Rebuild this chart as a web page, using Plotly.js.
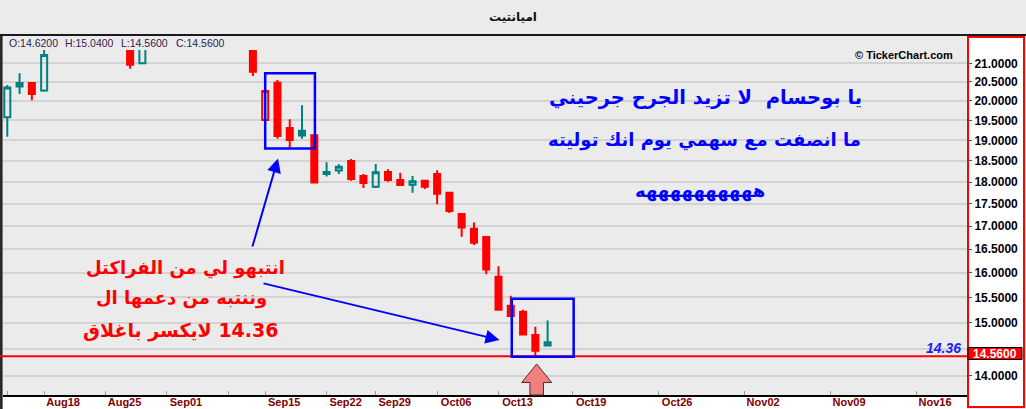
<!DOCTYPE html>
<html>
<head>
<meta charset="utf-8">
<script src="https://cdn.plot.ly/plotly-3.0.1.min.js"></script>
<style>
html,body{margin:0;padding:0;background:#ebebeb;overflow:hidden;}
#chart{width:1026px;height:409px;}
</style>
</head>
<body>
<div id="chart"></div>
<script>
// ---------------- data ----------------
const dates = ['2019-08-13','2019-08-14','2019-08-15',
 '2019-08-18','2019-08-19','2019-08-20','2019-08-21','2019-08-22',
 '2019-08-25','2019-08-26','2019-08-27','2019-08-28','2019-08-29',
 '2019-09-01','2019-09-02','2019-09-03','2019-09-04','2019-09-05',
 '2019-09-10','2019-09-11','2019-09-12',
 '2019-09-15','2019-09-16','2019-09-17','2019-09-18','2019-09-19',
 '2019-09-22','2019-09-24','2019-09-25','2019-09-26',
 '2019-09-29','2019-09-30','2019-10-01','2019-10-02','2019-10-03',
 '2019-10-06','2019-10-07','2019-10-08','2019-10-09','2019-10-10',
 '2019-10-13','2019-10-14','2019-10-15','2019-10-16','2019-10-17'];

const openP  = [19.58,20.47,20.47,20.27,21.50,21.90,22.30,22.10,21.80,21.60,
                21.80,21.00,21.70,22.00,22.20,22.10,22.30,22.10,21.80,21.60,
                21.70,19.51,20.48,19.31,19.24,19.13,18.24,18.27,18.50,18.14,
                17.89,18.24,18.05,17.94,18.03,18.19,17.75,17.27,16.94,16.76,
                15.92,15.33,15.21,14.76,14.62];
const highP  = [20.42,20.73,20.47,21.45,22.00,22.40,22.60,22.30,22.00,21.90,
                21.90,21.90,22.10,22.30,22.50,22.40,22.60,22.20,22.00,21.80,
                21.80,20.26,20.55,19.53,19.89,19.13,18.47,18.42,18.55,18.19,
                18.43,18.30,18.22,18.14,18.05,18.28,17.75,17.29,17.08,16.76,
                16.14,15.53,15.25,14.92,15.04];
const lowP   = [19.09,20.18,20.02,20.24,21.45,21.80,22.00,21.70,21.50,21.45,
                20.85,21.00,21.50,21.80,22.00,21.90,22.00,21.70,21.50,21.45,
                20.66,19.51,19.04,18.82,19.04,17.99,18.13,18.19,18.03,17.86,
                17.86,18.01,17.93,17.75,17.84,17.49,17.29,16.77,16.59,15.97,
                15.23,15.13,14.77,14.36,14.56];
const closeP = [20.35,20.38,20.18,21.23,21.90,22.30,22.10,21.80,21.60,21.80,
                20.96,21.70,22.00,22.20,22.10,22.30,22.10,21.80,21.60,21.70,
                20.77,20.26,19.11,19.01,19.12,17.99,18.19,18.36,18.07,17.98,
                18.23,18.05,17.93,18.02,17.89,17.73,17.34,16.97,16.64,16.07,
                15.25,15.13,14.77,14.46,14.56];

const tickDates  = ['2019-08-13','2019-08-18','2019-08-25','2019-09-01','2019-09-10','2019-09-15',
                    '2019-09-22','2019-09-29','2019-10-06','2019-10-13','2019-10-19','2019-10-26',
                    '2019-11-02','2019-11-09','2019-11-16'];
const tickLabels = ['','Aug18','Aug25','Sep01','','Sep15','Sep22','Sep29','Oct06','Oct13',
                    'Oct19','Oct26','Nov02','Nov09','Nov16'];

const priceTicks = [14.0,14.5,15.0,15.5,16.0,16.5,17.0,17.5,18.0,18.5,19.0,19.5,20.0,20.5,21.0];
const supportLevel = 14.36;

const titleText = 'اميانتيت';
const redNote  = ['انتبهو لي من الفراكتل', 'وننتبه من دعمها ال', '\u200F14.36 لايكسر باغلاق'];
const blueNote = ['يا بوحسام  لا تزيد الجرح جرحيني', 'ما انصفت مع سهمي يوم انك توليته', 'ههههههههههه'];

// ---------------- geometry ----------------
const W = 1026, H = 409;
const M = {l: 3, r: 59, t: 50, b: 14};
const PW = W - M.l - M.r, PH = H - M.t - M.b;
const xr = [-0.35, 78.15];
const yr = [Math.log10(13.6546), Math.log10(21.3657)];

const DAY = 86400000;
const lastIdx = dates.length - 1;
function dateIndex(d) {
  const k = dates.indexOf(d);
  if (k >= 0) return k;
  return lastIdx + Math.round((Date.parse(d) - Date.parse(dates[lastIdx])) / DAY);
}
const xIdx = dates.map((d, i) => i);
const tickVals = tickDates.map(dateIndex);

const pxX = px => (px - M.l) / PW;                 // pixel -> paper x
const pxY = py => 1 - (py - M.t) / PH;             // pixel -> paper y
const ixX = i => (i - xr[0]) / (xr[1] - xr[0]);    // index -> paper x
const prY = p => (Math.log10(p) - yr[0]) / (yr[1] - yr[0]); // price -> paper y
const prPx = p => M.t + (1 - prY(p)) * PH;         // price -> pixel y

// ---------------- traces ----------------
const TEAL = '#008080', RED = '#ff0000';
function group(up) {
  const idx = [];
  for (let i = 0; i < dates.length; i++) {
    const prev = i === 0 ? openP[0] : closeP[i - 1];
    if ((closeP[i] >= prev) === up) idx.push(i);
  }
  const col = up ? TEAL : RED;
  return {
    type: 'candlestick',
    x: idx.map(i => xIdx[i]),
    open: idx.map(i => openP[i]), high: idx.map(i => highP[i]),
    low: idx.map(i => lowP[i]), close: idx.map(i => closeP[i]),
    increasing: {line: {color: col, width: 2}, fillcolor: 'rgba(0,0,0,0)'},
    decreasing: {line: {color: col, width: 2}, fillcolor: col},
    whiskerwidth: 0, hoverinfo: 'skip', showlegend: false
  };
}
const traces = [group(true), group(false)];

// ---------------- decorations ----------------
const shapes = [
  {type: 'rect', xref: 'paper', yref: 'paper', x0: pxX(3), x1: pxX(967), y0: pxY(395), y1: pxY(409),
   fillcolor: '#ffffff', line: {width: 0}, layer: 'below'},
  {type: 'rect', xref: 'paper', yref: 'paper', x0: pxX(968), x1: pxX(1024), y0: pxY(407), y1: pxY(37),
   fillcolor: '#ffffff', line: {color: '#ff0000', width: 2}, layer: 'below'},
  {type: 'line', xref: 'paper', yref: 'paper', x0: pxX(0), x1: pxX(1026), y0: pxY(35), y1: pxY(35),
   line: {color: '#1a1a1a', width: 2}},
  {type: 'line', xref: 'paper', yref: 'paper', x0: pxX(1.3), x1: pxX(1.3), y0: pxY(36), y1: pxY(409),
   line: {color: '#222222', width: 2.5}},
  {type: 'line', xref: 'paper', yref: 'paper', x0: pxX(0), x1: 1, y0: prY(supportLevel), y1: prY(supportLevel),
   line: {color: '#ff0000', width: 2}},
  {type: 'rect', xref: 'paper', yref: 'paper', x0: ixX(21.0), x1: ixX(25.05), y0: prY(18.80), y1: prY(20.73),
   line: {color: '#0000ff', width: 2.5}},
  {type: 'rect', xref: 'paper', yref: 'paper', x0: ixX(41.08), x1: ixX(46.12), y0: prY(14.35), y1: prY(15.47),
   line: {color: '#0000ff', width: 2.5}},
  {type: 'rect', xref: 'paper', yref: 'paper', x0: pxX(968), x1: pxX(1022), y0: pxY(359.5), y1: pxY(347.5),
   fillcolor: '#ff0000', line: {color: '#000000', width: 1}},
];
(function () {
  const cx = 536.7, top = 364, neck = 382.5, bot = 395, hw = 15, sw = 6.8;
  const p = [[cx, top], [cx + hw, neck], [cx + sw, neck], [cx + sw, bot], [cx - sw, bot], [cx - sw, neck], [cx - hw, neck]];
  const path = 'M' + p.map(q => pxX(q[0]).toFixed(5) + ',' + pxY(q[1]).toFixed(5)).join(' L') + ' Z';
  shapes.push({type: 'path', xref: 'paper', yref: 'paper', path: path,
    fillcolor: '#f08080', line: {color: '#5a2a2a', width: 1}});
})();

function txt(text, xpx, ypx, font, xanchor) {
  return {xref: 'paper', yref: 'paper', x: pxX(xpx), y: pxY(ypx), text: text, showarrow: false,
          xanchor: xanchor || 'center', yanchor: 'middle', font: font};
}
function arrow(tx, ty, fx, fy) {
  return {xref: 'paper', yref: 'paper', x: pxX(tx), y: pxY(ty), ax: fx - tx, ay: fy - ty,
          axref: 'pixel', ayref: 'pixel', text: '', showarrow: true, arrowhead: 2, arrowsize: 1.4,
          arrowwidth: 2, arrowcolor: '#0000ff', standoff: 0, startstandoff: 0};
}
const hdrFont = c => ({family: 'Liberation Sans, Arial, sans-serif', size: 10.5, color: c});
const n = lastIdx;
const arFont = (c, s) => ({family: 'DejaVu Sans, sans-serif', size: s, color: c, weight: 'bold'});

const annotations = [
  txt('O:' + openP[n].toFixed(4), 7, 43.5, hdrFont('#262650'), 'left'),
  txt('H:' + highP[n].toFixed(4), 63, 43.5, hdrFont('#3e1a4e'), 'left'),
  txt('L:' + lowP[n].toFixed(4), 119, 43.5, hdrFont('#262650'), 'left'),
  txt('C:' + closeP[n].toFixed(4), 174, 43.5, hdrFont('#262650'), 'left'),
  txt('© TickerChart.com', 955, 55.5, {family: 'Liberation Sans, Arial, sans-serif', size: 11, color: '#000', weight: 'bold'}, 'right'),
  txt(String(supportLevel), 963, prPx(supportLevel) - 8.5,
      {family: 'Liberation Sans, Arial, sans-serif', size: 14, color: '#1c1cff', style: 'italic', weight: 'bold'}, 'right'),
  txt(closeP[n].toFixed(4), 995, 353.8, {family: 'Liberation Sans, Arial, sans-serif', size: 12, color: '#ffffff', weight: 'bold'}),
  txt(redNote[0], 185, 268, arFont('#ff0000', 18)),
  txt(redNote[1], 181, 298, arFont('#ff0000', 18)),
  txt(redNote[2], 180, 330, arFont('#ff0000', 19)),
  txt(blueNote[0], 705, 97, arFont('#0000ff', 19.5)),
  txt(blueNote[1], 704, 140, arFont('#0000ff', 18)),
  txt(blueNote[2], 700, 191, arFont('#0000ff', 18)),
  arrow(278, 158.5, 252, 248),
  arrow(499.5, 340, 262, 283),
];

const layout = {
  width: W, height: H,
  margin: M,
  paper_bgcolor: '#ebebeb', plot_bgcolor: '#ebebeb',
  showlegend: false,
  title: {text: '<b>' + titleText + '</b>', font: {family: 'DejaVu Sans, sans-serif', size: 12, color: '#111'},
          x: 0.5, xanchor: 'center', xref: 'container', y: 1 - 17 / H, yanchor: 'middle', yref: 'container'},
  xaxis: {range: xr, tickmode: 'array', tickvals: tickVals, ticktext: tickLabels,
          ticks: 'inside', ticklen: 4, tickwidth: 1, tickcolor: '#999999',
          tickfont: {family: 'Liberation Sans, Arial, sans-serif', size: 11, color: '#800000', weight: 'bold'},
          ticklabelshift: 19, ticklabelstandoff: -4, showgrid: false, zeroline: false,
          showline: true, linecolor: '#000000', linewidth: 2,
          rangeslider: {visible: false}, fixedrange: true},
  yaxis: {type: 'log', range: yr, side: 'right', tickmode: 'array', tickvals: priceTicks,
          ticktext: priceTicks.map(v => (v === 14.5 ? '' : v.toFixed(4))),
          ticks: 'outside', ticklen: 4, tickwidth: 1, tickcolor: '#555555',
          tickfont: {family: 'Liberation Sans, Arial, sans-serif', size: 12, color: '#000000', weight: 'bold'},
          showgrid: true, gridcolor: '#d3d3d3', gridwidth: 2, zeroline: false, showline: false,
          fixedrange: true},
  boxgap: 0.3, boxgroupgap: 0.3,
  shapes: shapes,
  annotations: annotations
};

Plotly.newPlot('chart', traces, layout, {displayModeBar: false, staticPlot: true});
</script>
</body>
</html>
